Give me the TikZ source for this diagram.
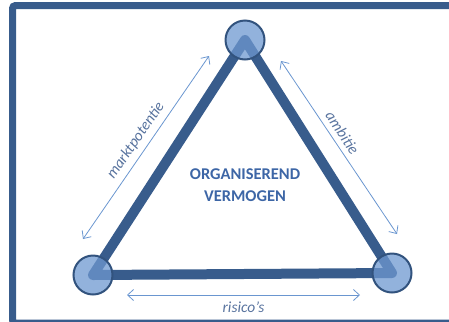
\documentclass[tikz,border=0pt]{standalone}
\usepackage{fontspec}
\setmainfont{Carlito}
\usetikzlibrary{arrows.meta}
\definecolor{framblue}{HTML}{385C8C}
\definecolor{dotblue}{HTML}{6E98D0}
\definecolor{arrblue}{HTML}{6A96D0}
\definecolor{lblblue}{HTML}{58739E}
\definecolor{midblue}{HTML}{3D66A6}
\tikzset{
  side/.style={framblue,line width=10bp,line join=round},
  vertex/.style={circle,draw=framblue!90!black,line width=2bp,fill=dotblue,fill opacity=0.75,minimum size=39bp,inner sep=0pt},
  span/.style={arrblue,line width=0.8bp,<->},
  lbl/.style={text=lblblue,font=\fontsize{15.5}{18}\selectfont\itshape}
}
\begin{document}
\begin{tikzpicture}[>={Straight Barb[length=6bp,width=11bp]},x=1bp,y=-1bp]
		\useasboundingbox (0,0) rectangle (449,321);
		\draw[framblue,line width=7bp,rounded corners=3bp] (449,5.5) -- (12.5,5.5) -- (12.5,323) -- (449,323);
		\coordinate (t) at (245,40);
		\coordinate (l) at (93,275);
		\coordinate (r) at (392,273);
		\draw[side] (t) -- (l) -- (r) -- cycle;
		\node[vertex] (tv) at (t) {};
		\node[vertex] (lv) at (l) {};
		\node[vertex] (rv) at (r) {};
		\coordinate (la) at (83,239);
		\coordinate (lb) at (209,56);
		\coordinate (ra) at (281,61);
		\coordinate (rb) at (397,234);
		\coordinate (ba) at (127,295);
		\coordinate (bb) at (360,295);
		\draw[span] (la) -- node[lbl,sloped,above=2bp] (mp) {marktpotentie} (lb);
		\draw[span] (ra) -- node[lbl,sloped,above=2bp,pos=0.45] (am) {ambitie} (rb);
		\draw[span] (ba) -- node[lbl,below=3bp] (rs) {risico’s} (bb);
		\node[text=midblue,font=\fontsize{16.5}{22}\selectfont\bfseries,align=center] (ov) at (245,185) {ORGANISEREND\\VERMOGEN};
		\end{tikzpicture}
\end{document}
